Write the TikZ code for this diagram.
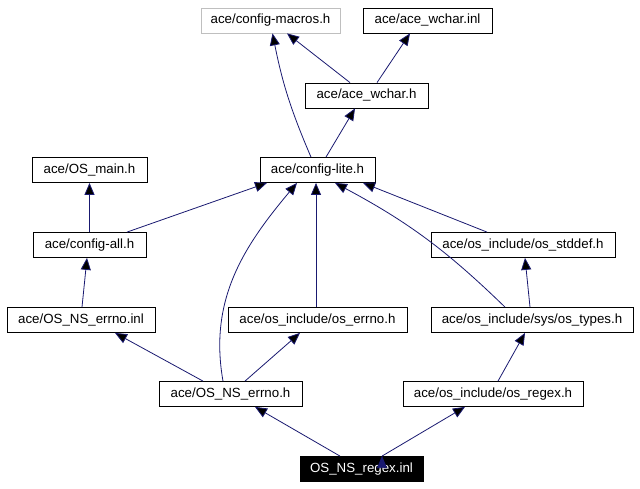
\documentclass[tikz,border=0pt]{standalone}
\usepackage{fontspec}
\setmainfont{Liberation Sans}
\usetikzlibrary{positioning,arrows.meta}
\definecolor{edgeblue}{HTML}{191970}
\definecolor{lightgrey}{HTML}{BFBFBF}

\begin{document}
\begin{tikzpicture}[x=1pt,y=1pt,
   file/.style={draw,rectangle,line width=0.8pt,minimum height=25pt,inner sep=0pt,
                font=\fontsize{13.3}{16}\selectfont},
   dep/.style={draw=edgeblue,line width=0.8pt,-{Triangle[length=12pt,width=10pt]}}]
   \useasboundingbox (0,0) rectangle (640,488);

   % top row
   \node[file, draw=lightgrey, minimum width=139pt] (macros) at (270.5,467.5) {ace/config-macros.h};
   \node[file, minimum width=129pt] (wcharinl) at (427.5,467.5) {ace/ace\_wchar.inl};
   \node[file, minimum width=123pt] (wcharh) at (366.5,392.5) {ace/ace\_wchar.h};

   \node[file, minimum width=115pt] (osmain) at (89.5,318) {ace/OS\_main.h};
   \node[file, minimum width=115pt] (lite) at (317.5,318) {ace/config-lite.h};

   \node[file, minimum width=113pt] (cfgall) at (89.5,243) {ace/config-all.h};
   \node[file, minimum width=184pt] (stddef) at (523,243) {ace/os\_include/os\_stddef.h};

   \node[file, minimum width=148pt] (errnoinl) at (81,168) {ace/OS\_NS\_errno.inl};
   \node[file, minimum width=179pt] (oserrno) at (317.5,168) {ace/os\_include/os\_errno.h};
   \node[file, minimum width=202pt] (ostypes) at (532,168) {ace/os\_include/sys/os\_types.h};

   \node[file, minimum width=143pt] (errnoh) at (230.5,94) {ace/OS\_NS\_errno.h};
   \node[file, minimum width=180pt] (regexh) at (493,94) {ace/os\_include/os\_regex.h};

   % the file itself
   \node[file, fill=black, text=white, minimum width=123pt] (regexinl) at (361.5,19) {OS\_NS\_regex.inl};

   \path[dep]
   ([xshift=-6.5pt]lite.north) edge[bend left=6] ([xshift=2pt]macros.south)
   ([xshift=-16.5pt]wcharh.north) edge ([xshift=16.5pt]macros.south)
   ([xshift=10.5pt]wcharh.north) edge ([xshift=-17.5pt]wcharinl.south)
   ([xshift=8.5pt]lite.north) edge ([xshift=-11.5pt]wcharh.south)

   (cfgall.north) edge (osmain.south)
   ([xshift=37.5pt]cfgall.north) edge ([xshift=-50.5pt]lite.south)
   ([xshift=-36pt]stddef.north) edge ([xshift=45.5pt]lite.south)

   ([xshift=1pt]errnoinl.north) edge ([xshift=-2.5pt]cfgall.south)
   ([xshift=-1.5pt]oserrno.north) edge ([xshift=-1.5pt]lite.south)
   ([xshift=-27pt]ostypes.north) edge[bend right=8] ([xshift=17.5pt]lite.south)
   ([xshift=-2pt]ostypes.north) edge ([xshift=2pt]stddef.south)

   ([xshift=-7.5pt]errnoh.north) edge[out=100,in=-130] ([xshift=-20.5pt]lite.south)
   ([xshift=-27.5pt]errnoh.north) edge ([xshift=34pt]errnoinl.south)
   ([xshift=14.5pt]errnoh.north) edge ([xshift=-17.5pt]oserrno.south)
   ([xshift=5pt]regexh.north) edge ([xshift=-7pt]ostypes.south)

   ([xshift=-21.5pt]regexinl.north) edge ([xshift=24.5pt]errnoh.south)
   ([xshift=20.5pt]regexinl.north) edge ([xshift=-28pt]regexh.south);
\end{tikzpicture}
\end{document}
